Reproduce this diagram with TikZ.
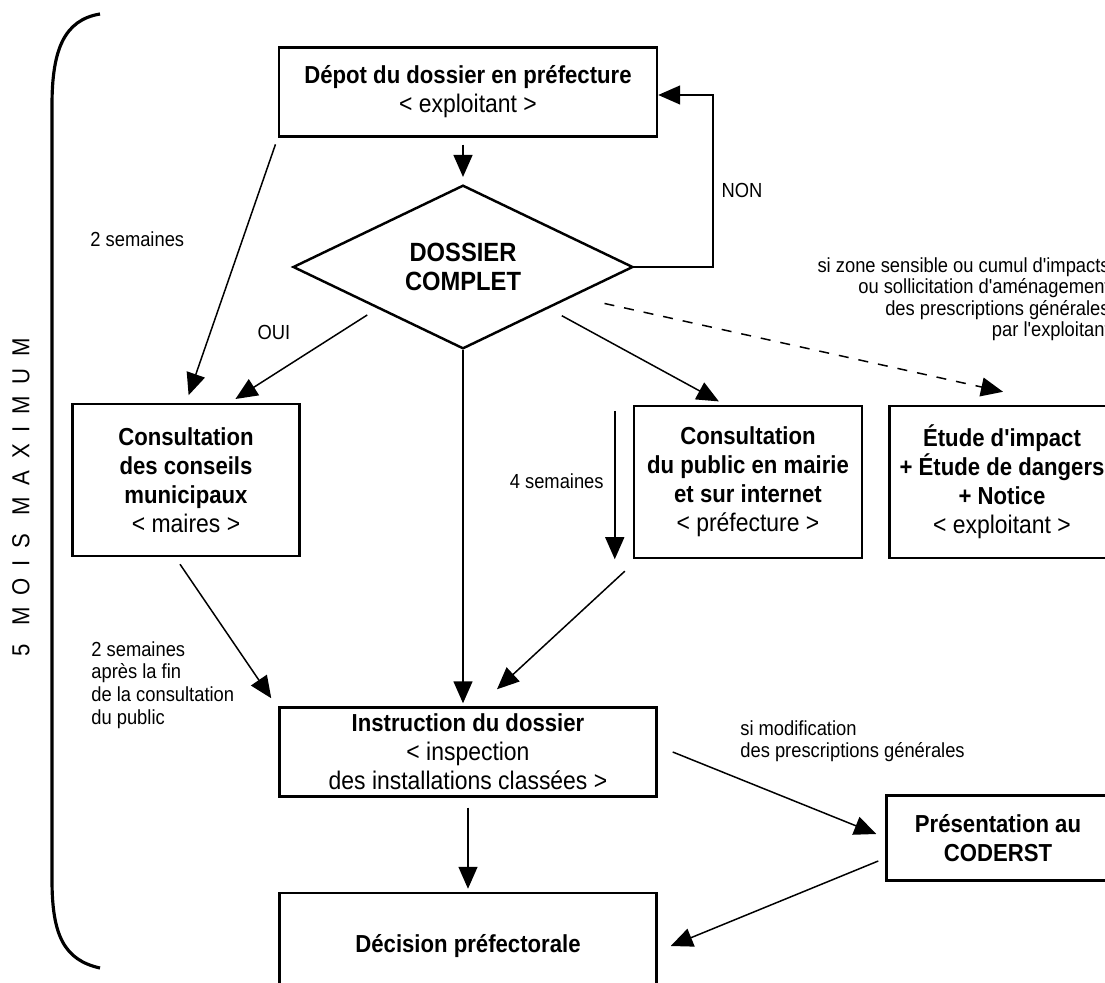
\documentclass[tikz,border=0pt]{standalone}
\usepackage{fontspec}
\setmainfont{Liberation Sans}[FakeStretch=0.9,Ligatures=TeXOff]
\usetikzlibrary{arrows.meta,shapes.geometric}

\newcommand{\qui}[1]{{\mdseries\fontsize{14.5}{16.5}\selectfont #1}}

\begin{document}
\begin{tikzpicture}[x=0.2mm,y=-0.2mm,
	boite/.style={draw,line width=1.4pt,align=center,inner sep=0pt,
		font=\fontsize{14}{16.5}\selectfont\bfseries},
	fleche/.style={-{Triangle[length=4.4mm,width=3.8mm]},line width=0.85pt},
	note/.style={font=\fontsize{11.6}{13}\selectfont,inner sep=0pt}]
	\useasboundingbox (0,0) rectangle (1105,983);
	\clip (0,0) rectangle (1105,983);

	\node[boite,minimum width=75.6mm,minimum height=17.8mm] (depot) at (468,92) {Dépot du dossier en préfecture\\\qui{< exploitant >}};
	\node[boite,shape=diamond,minimum width=68mm,minimum height=22.2mm,font=\fontsize{15}{16.5}\selectfont\bfseries] (dossier) at (463,267) {DOSSIER\\COMPLET};
	\node[boite,minimum width=45.4mm,minimum height=30.4mm] (conseils) at (186,480) {Consultation\\des conseils\\municipaux\\\qui{< maires >}};
	\node[boite,minimum width=45.6mm,minimum height=30.4mm] (public) at (748,482) {Consultation\\du public en mairie\\et sur internet\\\qui{< préfecture >}};
	\node[boite,minimum width=45mm,minimum height=30.4mm] (etude) at (1002,482) {Étude d'impact\\+ Étude de dangers\\+ Notice\\\qui{< exploitant >}};
	\node[boite,minimum width=75.4mm,minimum height=17.8mm] (instruction) at (468,752) {Instruction du dossier\\\qui{< inspection}\\\qui{des installations classées >}};
	\node[boite,minimum width=44.6mm,minimum height=17mm] (coderst) at (998,838) {Présentation au\\CODERST};
	\node[boite,minimum width=75.4mm,minimum height=21.2mm] (decision) at (468,946) {Décision préfectorale};

	% textes
	\node[note,anchor=base west] (deuxsem) at (90,247) {2 semaines};
	\node[note] (oui) at (274,332) {OUI};
	\node[note] (non) at (742,190) {NON};
	\node[note,anchor=north east,align=right,font=\fontsize{11.6}{12.2}\selectfont] (zone) at (1110,257) {si zone sensible ou cumul d'impacts\\ou sollicitation d'aménagement\\des prescriptions générales\\par l'exploitant};
	\node[note,anchor=east] (quatresem) at (604,481) {4 semaines};
	\node[note,anchor=north west,align=left] (apres) at (91,641) {2 semaines\\après la fin\\de la consultation\\du public};
	\node[note,anchor=north west,align=left] (modif) at (740,720) {si modification\\des prescriptions générales};
	\node[rotate=90,font=\fontsize{14}{14}\selectfont\addfontfeature{LetterSpace=48}] (duree) at (21,497) {5 MOIS MAXIMUM};

	% accolade
	\draw[line width=1.8pt] (100,14) .. controls (64,20) and (52,50) .. (52,105) -- (52,880) .. controls (52,935) and (64,960) .. (100,968);

	\path[fleche]
	(dossier.north |- depot.south) edge[shorten <=1.4mm,shorten >=1.4mm] (dossier.north)
	(depot.south west) edge[shorten <=1.4mm,shorten >=1.6mm] (conseils.north)
	(dossier.south west) edge[shorten <=2.4mm,shorten >=1.4mm] ([xshift=8.7mm]conseils.north)
	(dossier.south east) edge[shorten <=3mm,shorten >=1.4mm] ([xshift=-4.6mm]public.north)
	(dossier.south) edge[shorten >=0.6mm] (dossier.south |- instruction.north)
	([xshift=-3.6mm,yshift=-1.2mm]public.north west) edge ([xshift=-3.6mm]public.south west)
	([xshift=-1.2mm,yshift=-1.4mm]conseils.south) edge ([xshift=-1.4mm,yshift=1.6mm]instruction.north west)
	([xshift=-1.6mm,yshift=-2.4mm]public.south west) edge ([xshift=5.8mm,yshift=3.4mm]instruction.north)
	(instruction.south) edge[shorten <=2mm,shorten >=0.6mm] (decision.north)
	([xshift=3mm]instruction.east) edge ([xshift=-1.8mm,yshift=0.8mm]coderst.west)
	([xshift=-1.4mm,yshift=-4.6mm]coderst.west) edge ([xshift=2.6mm]decision.east);

	\draw[fleche] (dossier.east) -- ++(79,0) |- ([yshift=-0.6mm]depot.east);
	\draw[fleche,dash pattern=on 2mm off 2mm,shorten <=6.4mm] (dossier.-15) -- ([xshift=0.2mm,yshift=2.6mm]etude.north);
\end{tikzpicture}
\end{document}
